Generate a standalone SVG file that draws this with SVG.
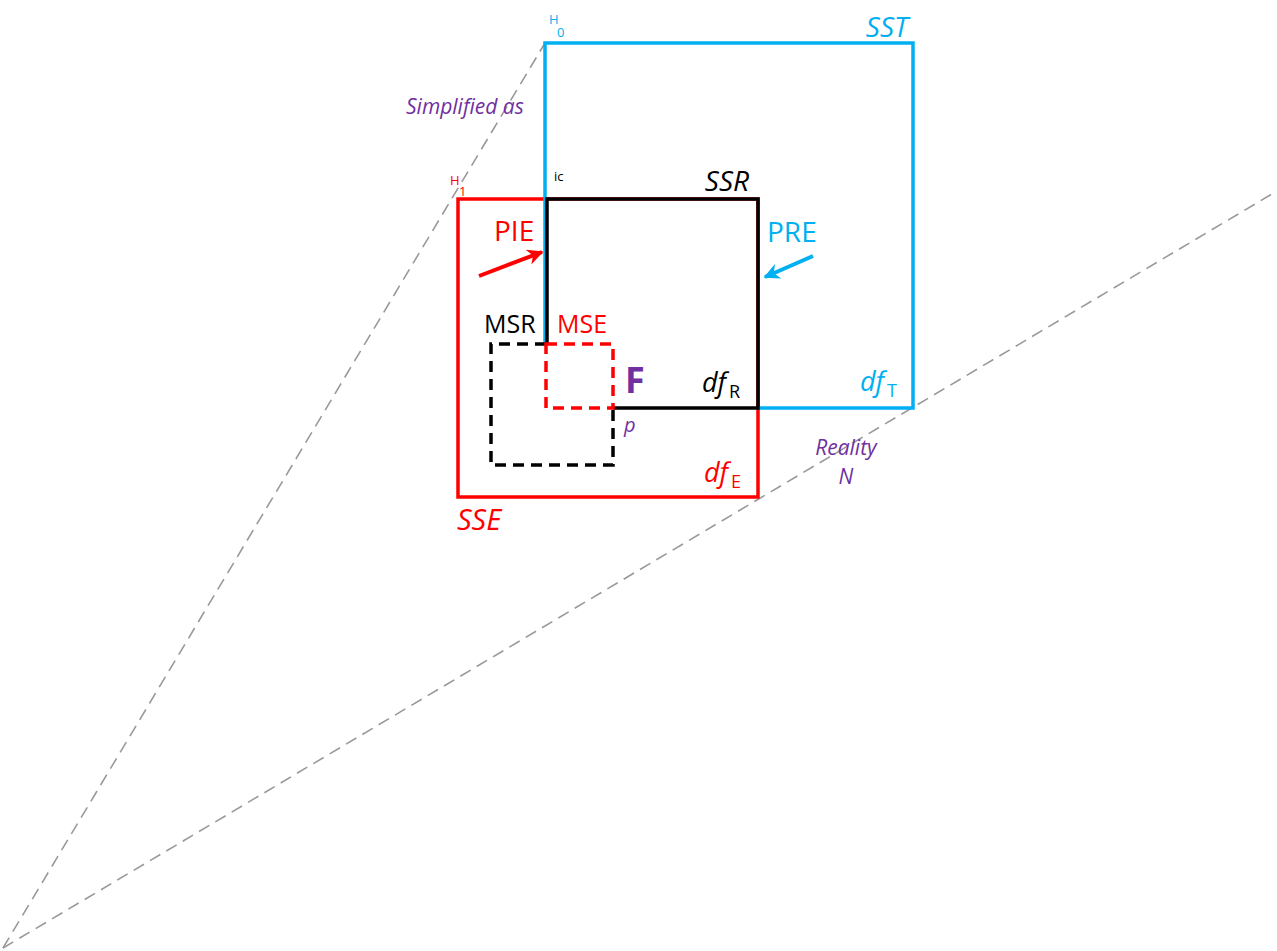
<svg xmlns="http://www.w3.org/2000/svg" width="1277" height="951" viewBox="0 0 1277 951">
<style>
.guide{fill:none;stroke:#999;stroke-width:1.6;stroke-dasharray:12 7}
.box{fill:none;stroke-width:3.5;stroke-linejoin:miter}
.dash{fill:none;stroke-width:3.5;stroke-dasharray:11 7}
text{font-family:"Open Sans","Liberation Sans",sans-serif}
.it{font-style:italic}
.purple{fill:#7030A0}
.blue{fill:#00B0F0}
.red{fill:#FF0000}
.black{fill:#000}
</style>
<defs>
<marker id="ahR" viewBox="0 0 10 10" refX="9" refY="5" markerWidth="4" markerHeight="4" orient="auto" markerUnits="strokeWidth">
<path d="M0,0 L10,5 L0,10 L3,5 z" fill="#FF0000"/>
</marker>
<marker id="ahB" viewBox="0 0 10 10" refX="9" refY="5" markerWidth="4" markerHeight="4" orient="auto" markerUnits="strokeWidth">
<path d="M0,0 L10,5 L0,10 L3,5 z" fill="#00B0F0"/>
</marker>
</defs>
<rect width="1277" height="951" fill="#fff"/>
<g id="connectors">
<line class="guide" x1="3" y1="948" x2="545" y2="43"/>
<line class="guide" x1="3" y1="948" x2="1277" y2="191"/>
<line x1="479" y1="276" x2="542" y2="252" stroke="#FF0000" stroke-width="4" marker-end="url(#ahR)"/>
<line x1="813" y1="256" x2="765" y2="277" stroke="#00B0F0" stroke-width="4" marker-end="url(#ahB)"/>
</g>
<g id="SSE">
<rect class="box" x="458" y="199" width="300" height="298" stroke="#FF0000"/>
<text x="457" y="530" class="it red" font-size="29">SSE</text>
<text x="704" y="482" class="it red" font-size="27">df</text>
<text x="731" y="488" class="red" font-size="18">E</text>
<text x="450" y="185" class="red" font-size="13">H</text>
<text x="459" y="196" class="red" font-size="13">1</text>
</g>
<g id="SST">
<path class="box" d="M545,344 V43 H913 V408 H758" stroke="#00B0F0"/>
<text x="908" y="37" text-anchor="end" class="it blue" font-size="28">SST</text>
<text x="860" y="391" class="it blue" font-size="27">df</text>
<text x="887" y="397" class="blue" font-size="18">T</text>
<text x="549" y="24" class="blue" font-size="13">H</text>
<text x="557" y="37" class="blue" font-size="13">0</text>
</g>
<g id="SSR">
<path class="box" d="M613,408 H758 V199 H547 V344" stroke="#000"/>
<text x="749" y="191" text-anchor="end" class="it black" font-size="28">SSR</text>
<text x="702" y="392" class="it black" font-size="27">df</text>
<text x="729" y="398" class="black" font-size="18">R</text>
<text x="554" y="181" class="black" font-size="13">ic</text>
</g>
<g id="MSR">
<path class="dash" d="M546,344 H491 V465 H613 V408" stroke="#000"/>
<text x="484" y="333" class="black" font-size="25">MSR</text>
</g>
<g id="MSE">
<rect class="dash" x="546" y="344" width="67" height="64" stroke="#FF0000"/>
<text x="557" y="333" class="red" font-size="25">MSE</text>
</g>
<g id="PIE">
<text x="494" y="241" class="red" font-size="28">PIE</text>
</g>
<g id="PRE">
<text x="767" y="242" class="blue" font-size="28">PRE</text>
</g>
<g id="F">
<text x="625" y="393" class="purple" font-size="36" font-weight="bold">F</text>
<text x="624" y="432" class="it purple" font-size="20">p</text>
</g>
<g id="labels">
<text x="406" y="114" class="it purple" font-size="21">Simplified as</text>
<text x="846" y="455" text-anchor="middle" class="it purple" font-size="21">Reality</text>
<text x="846" y="484" text-anchor="middle" class="it purple" font-size="21">N</text>
</g>
</svg>
